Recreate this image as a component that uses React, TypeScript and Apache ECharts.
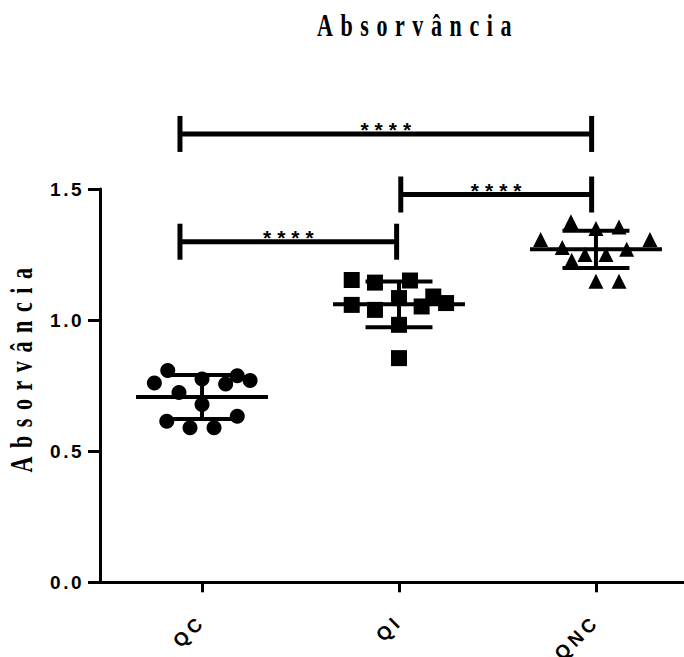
import React, { useEffect, useRef } from "react";
import * as echarts from "echarts";

// ---- data ----
const categories = ["QC", "QI", "QNC"];

const qcOffsets = [-0.174, -0.242, -0.117, 0, 0.12, 0.179, 0.244, 0, -0.179, -0.061, 0.061, 0.179];
const qcValues = [0.808, 0.76, 0.724, 0.775, 0.756, 0.788, 0.77, 0.678, 0.614, 0.589, 0.589, 0.633];

const qiOffsets = [-0.24, -0.122, 0.056, 0, -0.24, -0.122, 0.115, 0.174, 0.239, 0, 0];
const qiValues = [1.153, 1.143, 1.151, 1.084, 1.058, 1.039, 1.052, 1.09, 1.065, 0.982, 0.855];

const qncOffsets = [-0.127, 0, 0.117, -0.281, 0.274, -0.171, 0.156, -0.056, 0.051, -0.123, 0, 0.117];
const qncValues = [1.375, 1.349, 1.355, 1.307, 1.307, 1.277, 1.27, 1.25, 1.25, 1.228, 1.148, 1.148];

const groupMeans = [0.707, 1.06, 1.27];
const groupSDs = [0.084, 0.087, 0.071];

const bracketFrom = [-0.112, 1.009, -0.112];
const bracketTo = [0.988, 1.978, 1.978];
const bracketY = [1.299, 1.479, 1.71];
const bracketLabels = ["****", "****", "****"];

const yTicks = [0, 0.5, 1.0, 1.5];
const titleText = "Absorvância";
const yAxisTitle = "Absorvância";

// ---- styling constants ----
const MEAN_HALF = 0.335;
const SD_HALF = 0.17;
const BRACKET_END = 18;
const SANS = "'Liberation Sans', Arial, sans-serif";
const SERIF = "'Liberation Serif', 'Times New Roman', serif";

function applySpacing(root: HTMLElement) {
  root.querySelectorAll("text").forEach((t) => {
    const s = (t.textContent || "").trim();
    let ls: number | null = null;
    if (s === titleText) {
      const r = t.getBoundingClientRect();
      ls = r.height > r.width ? 8.6 : 7.6;
    } else if (s === "****") ls = 6;
    else if (/^\d\.\d$/.test(s)) ls = 2.5;
    else if (categories.indexOf(s) >= 0) ls = 4;
    if (ls !== null && !t.getAttribute("letter-spacing")) {
      t.setAttribute("letter-spacing", String(ls));
    }
  });
}

export default function App() {
  const ref = useRef<HTMLDivElement>(null);

  useEffect(() => {
    const el = ref.current!;
    const chart = echarts.init(el, null, { renderer: "svg" });

    const scatterData = (offs: number[], vals: number[], idx: number) =>
      vals.map((v, k) => [idx + offs[k], v]);

    const summaryData = groupMeans.map((m, i) => [i, m, groupSDs[i]]);
    const bracketData = bracketFrom.map((f, i) => [f, bracketTo[i], bracketY[i], i]);

    const option: any = {
      animation: false,
      backgroundColor: "#ffffff",
      grid: { left: 100, right: 0, top: 189, bottom: 74 },
      xAxis: {
        type: "value",
        min: -0.518,
        max: 2.447,
        axisLine: { show: true, onZero: false, lineStyle: { color: "#000", width: 3 } },
        axisTick: {
          show: true,
          customValues: [0, 1, 2],
          length: 10,
          lineStyle: { color: "#000", width: 3 },
        },
        axisLabel: {
          customValues: [0, 1, 2],
          formatter: (v: number) => categories[Math.round(v)],
          rotate: 45,
          margin: 36,
          color: "#000",
          fontFamily: SANS,
          fontWeight: "bold",
          fontSize: 19,
        },
        splitLine: { show: false },
      },
      yAxis: {
        type: "value",
        min: 0,
        max: 1.5,
        interval: 0.5,
        axisLine: { show: true, onZero: false, lineStyle: { color: "#000", width: 3 } },
        axisTick: { show: true, length: 12, lineStyle: { color: "#000", width: 3 } },
        axisLabel: {
          customValues: yTicks,
          formatter: (v: number) => v.toFixed(1),
          margin: 16,
          color: "#000",
          fontFamily: SANS,
          fontWeight: "bold",
          fontSize: 19,
        },
        splitLine: { show: false },
      },
      graphic: [
        {
          type: "text",
          x: 418,
          y: 25.5,
          scaleY: 1.4,
          style: {
            text: titleText,
            font: `bold 22px ${SERIF}`,
            fill: "#000",
            align: "center",
            verticalAlign: "middle",
          },
        },
        {
          type: "text",
          x: 22,
          y: 366,
          rotation: Math.PI / 2,
          scaleY: 1.4,
          style: {
            text: yAxisTitle,
            font: `bold 22px ${SERIF}`,
            fill: "#000",
            align: "center",
            verticalAlign: "middle",
          },
        },
      ],
      series: [
        {
          type: "scatter",
          symbol: "circle",
          symbolSize: 15,
          itemStyle: { color: "#000", opacity: 1 },
          data: scatterData(qcOffsets, qcValues, 0),
        },
        {
          type: "scatter",
          symbol: "rect",
          symbolSize: 16,
          itemStyle: { color: "#000", opacity: 1 },
          data: scatterData(qiOffsets, qiValues, 1),
        },
        {
          type: "scatter",
          symbol: "triangle",
          symbolSize: 15,
          itemStyle: { color: "#000", opacity: 1 },
          data: scatterData(qncOffsets, qncValues, 2),
        },
        {
          type: "custom",
          clip: false,
          data: summaryData,
          renderItem: (_p: any, api: any) => {
            const i = api.value(0);
            const m = api.value(1);
            const s = api.value(2);
            const c = api.coord([i, m]);
            const l = api.coord([i - MEAN_HALF, m]);
            const r = api.coord([i + MEAN_HALF, m]);
            const top = api.coord([i, m + s]);
            const bot = api.coord([i, m - s]);
            const sl = api.coord([i - SD_HALF, m])[0];
            const sr = api.coord([i + SD_HALF, m])[0];
            const st = { stroke: "#000", lineWidth: 4 };
            return {
              type: "group",
              children: [
                { type: "line", shape: { x1: l[0], y1: c[1], x2: r[0], y2: c[1] }, style: st },
                { type: "line", shape: { x1: c[0], y1: top[1], x2: c[0], y2: bot[1] }, style: st },
                { type: "line", shape: { x1: sl, y1: top[1], x2: sr, y2: top[1] }, style: st },
                { type: "line", shape: { x1: sl, y1: bot[1], x2: sr, y2: bot[1] }, style: st },
              ],
            };
          },
        },
        {
          type: "custom",
          clip: false,
          data: bracketData,
          renderItem: (_p: any, api: any) => {
            const a = api.coord([api.value(0), api.value(2)]);
            const b = api.coord([api.value(1), api.value(2)]);
            const idx = api.value(3);
            const st = { stroke: "#000", lineWidth: 5 };
            return {
              type: "group",
              children: [
                { type: "line", shape: { x1: a[0], y1: a[1], x2: b[0], y2: b[1] }, style: st },
                { type: "line", shape: { x1: a[0], y1: a[1] - BRACKET_END, x2: a[0], y2: a[1] + BRACKET_END }, style: st },
                { type: "line", shape: { x1: b[0], y1: b[1] - BRACKET_END, x2: b[0], y2: b[1] + BRACKET_END }, style: st },
                {
                  type: "text",
                  x: (a[0] + b[0]) / 2 + 3,
                  y: a[1] - 4,
                  style: {
                    text: bracketLabels[idx],
                    font: `bold 21px ${SANS}`,
                    fill: "#000",
                    align: "center",
                    verticalAlign: "middle",
                  },
                },
              ],
            };
          },
        },
      ],
    };

    chart.setOption(option);
    applySpacing(el);
    chart.on("finished", () => applySpacing(el));
    return () => {
      chart.dispose();
    };
  }, []);

  return (
    <div
      ref={ref}
      style={{ position: "absolute", left: 0, top: 0, width: 684, height: 657 }}
    />
  );
}
